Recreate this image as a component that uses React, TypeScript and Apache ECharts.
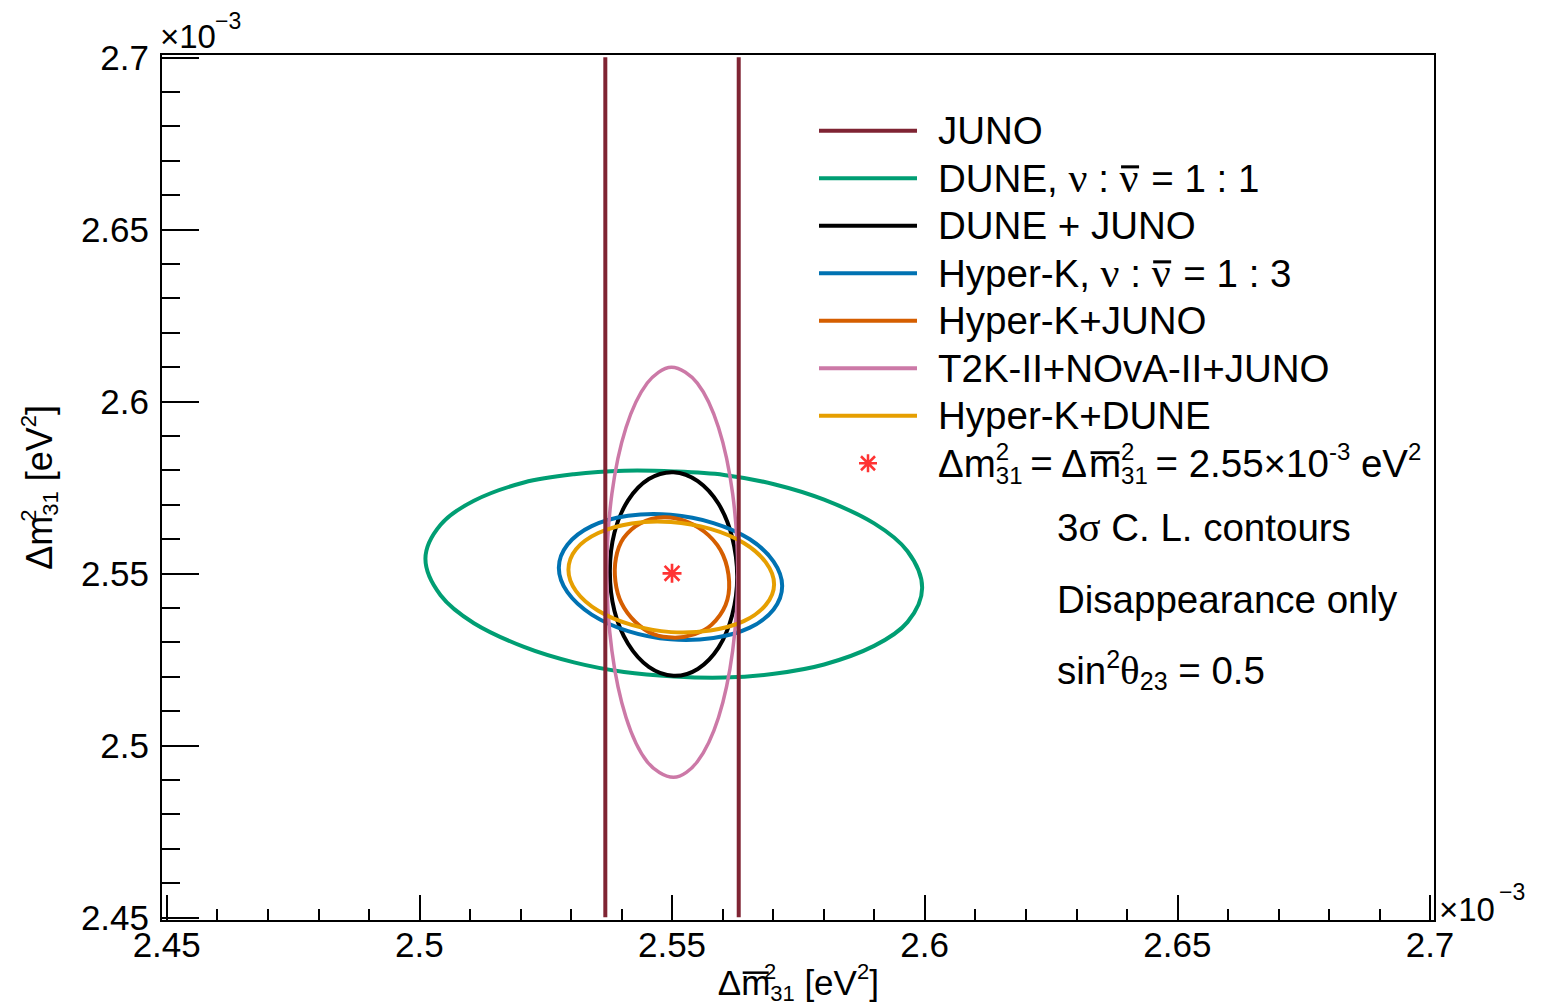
import React, { useEffect, useRef } from "react";
import * as echarts from "echarts";

const SANS = "'Liberation Sans', Arial, Helvetica, sans-serif";
const SERIF = "'Liberation Serif', 'Times New Roman', serif";

// Axis ranges, in units of 1e-3 eV^2
const X_MIN = 2.45;
const X_MAX = 2.7;
const Y_MIN = 2.45;
const Y_MAX = 2.7;
const STEP = 0.05;
const X_TICK_LABELS = ["2.45", "2.5", "2.55", "2.6", "2.65", "2.7"];
const Y_TICK_LABELS = ["2.45", "2.5", "2.55", "2.6", "2.65", "2.7"];

// True point
const TRUE_POINT = [[2.55, 2.55]];

// JUNO band edges (vertical lines)
const JUNO_LEFT = [[2.5368, Y_MIN], [2.5368, Y_MAX]];
const JUNO_RIGHT = [[2.5632, Y_MIN], [2.5632, Y_MAX]];

// 3 sigma contours, [Δm̄²31, Δm²31]
const DUNE = [
  [2.5504, 2.5796], [2.5603, 2.5786], [2.5702, 2.5759], [2.5801, 2.5714],
  [2.59, 2.5645], [2.5966, 2.5564], [2.5995, 2.5458], [2.5966, 2.5358],
  [2.59, 2.5289], [2.5801, 2.5235], [2.5702, 2.5208], [2.5603, 2.5197],
  [2.5504, 2.52], [2.5405, 2.5213], [2.5306, 2.5241], [2.5207, 2.5286],
  [2.5108, 2.5355], [2.5042, 2.5436], [2.5012, 2.5542], [2.5042, 2.5641],
  [2.5108, 2.5711], [2.5207, 2.5764], [2.5306, 2.5788], [2.5405, 2.5798],
];

const DUNE_JUNO = [
  [2.5503, 2.5794], [2.5551, 2.5768], [2.5592, 2.5702], [2.5619, 2.5605],
  [2.5629, 2.549], [2.5619, 2.5378], [2.5592, 2.5284], [2.5551, 2.5222],
  [2.5503, 2.5202], [2.5454, 2.5228], [2.5413, 2.5295], [2.5386, 2.5391],
  [2.5377, 2.5506], [2.5386, 2.5618], [2.5413, 2.5712], [2.5454, 2.5774],
];

const HYPERK = [
  [2.5497, 2.567], [2.5582, 2.5646], [2.5654, 2.5599], [2.5701, 2.5534],
  [2.5718, 2.5463], [2.5701, 2.5395], [2.5654, 2.5342], [2.5582, 2.5312],
  [2.5497, 2.5308], [2.5413, 2.5332], [2.5341, 2.538], [2.5293, 2.5445],
  [2.5276, 2.5516], [2.5293, 2.5583], [2.5341, 2.5637], [2.5413, 2.5667],
];

const HYPERK_JUNO = [
  [2.5483, 2.5663], [2.5529, 2.565], [2.5572, 2.5611], [2.5601, 2.5553],
  [2.5613, 2.5476], [2.5606, 2.5408], [2.5578, 2.535], [2.5545, 2.5323],
  [2.5506, 2.5313], [2.5463, 2.5323], [2.5427, 2.5359], [2.54, 2.5413],
  [2.5388, 2.5476], [2.5389, 2.5544], [2.5404, 2.5602], [2.5437, 2.5645],
];

const T2K_NOVA_JUNO = [
  [2.5499, 2.6099], [2.555, 2.6053], [2.5592, 2.5924], [2.562, 2.5731],
  [2.563, 2.5503], [2.562, 2.5275], [2.5592, 2.5081], [2.555, 2.4952],
  [2.5503, 2.4907], [2.5451, 2.4952], [2.5409, 2.5081], [2.5381, 2.5275],
  [2.5371, 2.5503], [2.5381, 2.5731], [2.5409, 2.5924], [2.5451, 2.6053],
];

const HYPERK_DUNE = [
  [2.5498, 2.5649], [2.5576, 2.5629], [2.5642, 2.5588], [2.5686, 2.5531],
  [2.5702, 2.5468], [2.5686, 2.5409], [2.5642, 2.5361], [2.5576, 2.5334],
  [2.5498, 2.5329], [2.542, 2.535], [2.5354, 2.5391], [2.531, 2.5448],
  [2.5295, 2.551], [2.531, 2.557], [2.5354, 2.5617], [2.542, 2.5645],
];

const SERIES_NAMES = [
  "JUNO",
  "DUNE",
  "DUNE_JUNO",
  "HYPERK",
  "HYPERK_JUNO",
  "T2K_NOVA_JUNO",
  "HYPERK_DUNE",
  "TRUE",
];

const LEGEND_LABELS: Record<string, string> = {
  JUNO: "JUNO",
  DUNE: "DUNE, {g|\u03bd} : {gb|\u03bd} = 1 : 1",
  DUNE_JUNO: "DUNE + JUNO",
  HYPERK: "Hyper-K, {g|\u03bd} : {gb|\u03bd} = 1 : 3",
  HYPERK_JUNO: "Hyper-K+JUNO",
  T2K_NOVA_JUNO: "T2K-II+NOvA-II+JUNO",
  HYPERK_DUNE: "Hyper-K+DUNE",
  TRUE:
    "\u0394m{sup0|2}{sub|31}\u2009= \u0394{mb|m}{sup0|2}{sub|31}\u2009= 2.55\u00d710{sup|-3} eV{sup|2}",
};

const COLORS: Record<string, string> = {
  JUNO: "#7f2433",
  DUNE: "#009e73",
  DUNE_JUNO: "#000000",
  HYPERK: "#0072b2",
  HYPERK_JUNO: "#d55e00",
  T2K_NOVA_JUNO: "#cc79a7",
  HYPERK_DUNE: "#e69f00",
  TRUE: "#ff0000",
};

// Asterisk marker (four crossing bars) and legend bar
const STAR_PATH =
  "path://M8.6,0H11.4V20H8.6Z M0,8.6H20V11.4H0Z M1.2,3.2L3.2,1.2L18.8,16.8L16.8,18.8Z M16.8,1.2L18.8,3.2L3.2,18.8L1.2,16.8Z";
const BAR_PATH = "path://M0,0H98V4H0Z";

const LEGEND_FONT = 38.5;
const LEGEND_ROW = 47.5;
const X_TITLE_FONT = 35;
const X_TITLE_ROW = 44;

// Token background carrying the bar drawn over an antiparticle symbol
const overbarImage = (w: number, h: number, barTop: number, barH: number) =>
  "data:image/svg+xml;charset=utf-8," +
  encodeURIComponent(
    `<svg xmlns="http://www.w3.org/2000/svg" width="${w}" height="${h}">` +
      `<rect x="1.5" y="${barTop}" width="${w - 3}" height="${barH}" fill="#000"/></svg>`
  );

const tickLabel = (labels: string[], min: number) => (v: number) =>
  labels[Math.round((v - min) / STEP)] ?? "";

const richScripts = (base: number, row: number) => {
  const greek = Math.round(base * 1.08);
  const nuW = Math.round(greek * 0.5);
  const mW = Math.round(base * 0.833);
  const barTop = row / 2 - 0.38 * base;
  const barH = Math.max(2.5, 0.09 * base);
  const small = Math.round(base * 0.62);
  const smallRow = Math.round(base * 0.7);
  return {
    g: { fontFamily: SERIF, fontSize: greek },
    gb: {
      fontFamily: SERIF,
      fontSize: greek,
      width: nuW,
      lineHeight: row,
      backgroundColor: { image: overbarImage(nuW, row, barTop, barH) },
    },
    mb: {
      fontFamily: SANS,
      fontSize: base,
      width: mW,
      lineHeight: row,
      backgroundColor: { image: overbarImage(mW, row, barTop, barH) },
    },
    sup0: { fontSize: small, lineHeight: smallRow, verticalAlign: "top", width: 0 },
    sup: { fontSize: small, lineHeight: smallRow, verticalAlign: "top" },
    sub: { fontSize: small, lineHeight: smallRow, verticalAlign: "bottom" },
  };
};

// Closed smooth outline through the read contour points
const contour = (name: string, pts: number[][], width = 4) => ({
  name,
  type: "custom",
  coordinateSystem: "cartesian2d",
  data: pts,
  encode: { x: 0, y: 1 },
  silent: true,
  itemStyle: { color: COLORS[name] },
  renderItem: (params: any, api: any) => {
    if (params.dataIndex !== 0) return null;
    return {
      type: "polygon",
      shape: { points: pts.map((p) => api.coord(p)), smooth: 0.34 },
      style: { fill: "none", stroke: COLORS[name], lineWidth: width },
    };
  },
});

const junoLine = (pts: number[][]) => ({
  name: "JUNO",
  type: "line",
  data: pts,
  symbol: "none",
  silent: true,
  lineStyle: { color: COLORS.JUNO, width: 4 },
  itemStyle: { color: COLORS.JUNO },
});

export default function App() {
  const ref = useRef<HTMLDivElement>(null);

  useEffect(() => {
    if (!ref.current) return;
    const chart = echarts.init(ref.current, null, {
      renderer: "svg",
      width: 1555,
      height: 1005,
    });

    const axisTextBase = { color: "#000", fontFamily: SANS };
    const tickStyle = { color: "#000", width: 2 };

    const option: any = {
      animation: false,
      backgroundColor: "#ffffff",
      grid: {
        left: 166.7,
        top: 57.3,
        width: 1263.3,
        height: 860,
        containLabel: false,
        outerBoundsMode: "none",
      },
      xAxis: {
        type: "value",
        min: X_MIN,
        max: X_MAX,
        interval: STEP,
        position: "bottom",
        offset: 3.7,
        axisLine: { show: false },
        splitLine: { show: false },
        axisTick: { inside: true, length: 26, lineStyle: tickStyle },
        minorTick: { show: true, splitNumber: 5, length: 12, lineStyle: tickStyle },
        axisLabel: {
          ...axisTextBase,
          fontSize: 35,
          margin: 6,
          formatter: tickLabel(X_TICK_LABELS, X_MIN),
        },
        name: "\u0394{mb|m}{sup0|2}{sub|31} [eV{sup|2}]",
        nameLocation: "middle",
        nameGap: 39,
        nameMoveOverlap: false,
        nameTextStyle: {
          ...axisTextBase,
          fontSize: X_TITLE_FONT,
          lineHeight: X_TITLE_ROW,
          rich: richScripts(X_TITLE_FONT, X_TITLE_ROW),
        },
      },
      yAxis: {
        type: "value",
        min: Y_MIN,
        max: Y_MAX,
        interval: STEP,
        position: "left",
        offset: 5.7,
        axisLine: { show: false },
        splitLine: { show: false },
        axisTick: { inside: true, length: 38, lineStyle: tickStyle },
        minorTick: { show: true, splitNumber: 5, length: 19, lineStyle: tickStyle },
        axisLabel: {
          ...axisTextBase,
          fontSize: 35,
          margin: 12,
          formatter: tickLabel(Y_TICK_LABELS, Y_MIN),
        },
        name: "\u0394m{sup0|2}{sub|31} [eV{sup|2}]",
        nameLocation: "middle",
        nameRotate: 90,
        nameGap: 100,
        nameTextStyle: {
          ...axisTextBase,
          fontSize: 36,
          lineHeight: 44,
          rich: richScripts(36, 44),
        },
      },
      legend: {
        orient: "vertical",
        left: 819,
        top: 107,
        padding: 0,
        itemGap: 0,
        itemWidth: 98,
        itemHeight: 18,
        selectedMode: false,
        symbolKeepAspect: true,
        itemStyle: { borderWidth: 0 },
        data: SERIES_NAMES.map((name) => ({
          name,
          icon: name === "TRUE" ? STAR_PATH : BAR_PATH,
        })),
        formatter: (name: string) => LEGEND_LABELS[name],
        textStyle: {
          color: "#000",
          fontFamily: SANS,
          fontSize: LEGEND_FONT,
          lineHeight: LEGEND_ROW,
          padding: [0, 0, 0, 16],
          rich: richScripts(LEGEND_FONT, LEGEND_ROW),
        },
      },
      series: [
        junoLine(JUNO_LEFT),
        junoLine(JUNO_RIGHT),
        contour("DUNE", DUNE),
        contour("DUNE_JUNO", DUNE_JUNO),
        contour("HYPERK", HYPERK),
        contour("HYPERK_JUNO", HYPERK_JUNO),
        contour("T2K_NOVA_JUNO", T2K_NOVA_JUNO, 3.5),
        contour("HYPERK_DUNE", HYPERK_DUNE),
        {
          name: "TRUE",
          type: "scatter",
          data: TRUE_POINT,
          symbol: STAR_PATH,
          symbolSize: 19,
          symbolKeepAspect: true,
          silent: true,
          itemStyle: { color: COLORS.TRUE },
          z: 5,
        },
      ],
      graphic: [
        // plot frame
        {
          type: "rect",
          shape: { x: 161, y: 54, width: 1274, height: 867 },
          style: { fill: "none", stroke: "#000", lineWidth: 2 },
          silent: true,
          z: 10,
        },
        // axis exponents
        {
          type: "text",
          x: 160,
          y: 36,
          style: { text: "\u00d710", fontFamily: SANS, fontSize: 33, fill: "#000", verticalAlign: "middle" },
        },
        {
          type: "text",
          x: 215,
          y: 20.5,
          style: { text: "\u22123", fontFamily: SANS, fontSize: 23, fill: "#000", verticalAlign: "middle" },
        },
        {
          type: "text",
          x: 1439,
          y: 909,
          style: { text: "\u00d710", fontFamily: SANS, fontSize: 33, fill: "#000", verticalAlign: "middle" },
        },
        {
          type: "text",
          x: 1499,
          y: 892,
          style: { text: "\u22123", fontFamily: SANS, fontSize: 23, fill: "#000", verticalAlign: "middle" },
        },
        // annotations
        {
          type: "text",
          x: 1057,
          y: 527,
          style: {
            text: "3{g|\u03c3} C. L. contours",
            fontFamily: SANS,
            fontSize: 38.5,
            lineHeight: 47,
            fill: "#000",
            verticalAlign: "middle",
            rich: { g: { fontFamily: SERIF, fontSize: 41 } },
          },
        },
        {
          type: "text",
          x: 1057,
          y: 599,
          style: {
            text: "Disappearance only",
            fontFamily: SANS,
            fontSize: 38.5,
            lineHeight: 47,
            fill: "#000",
            verticalAlign: "middle",
          },
        },
        {
          type: "text",
          x: 1057,
          y: 670,
          style: {
            text: "sin{sup|2}{g|\u03b8}{sub|23} = 0.5",
            fontFamily: SANS,
            fontSize: 38.5,
            lineHeight: 47,
            fill: "#000",
            verticalAlign: "middle",
            rich: {
              g: { fontFamily: SERIF, fontSize: 41 },
              sup: { fontSize: 25, lineHeight: 27, verticalAlign: "top" },
              sub: { fontSize: 25, lineHeight: 27, verticalAlign: "bottom" },
            },
          },
        },
      ],
    };

    chart.setOption(option);
    return () => chart.dispose();
  }, []);

  return (
    <div
      ref={ref}
      style={{ position: "absolute", left: 0, top: 0, width: 1555, height: 1005, background: "#fff" }}
    />
  );
}
